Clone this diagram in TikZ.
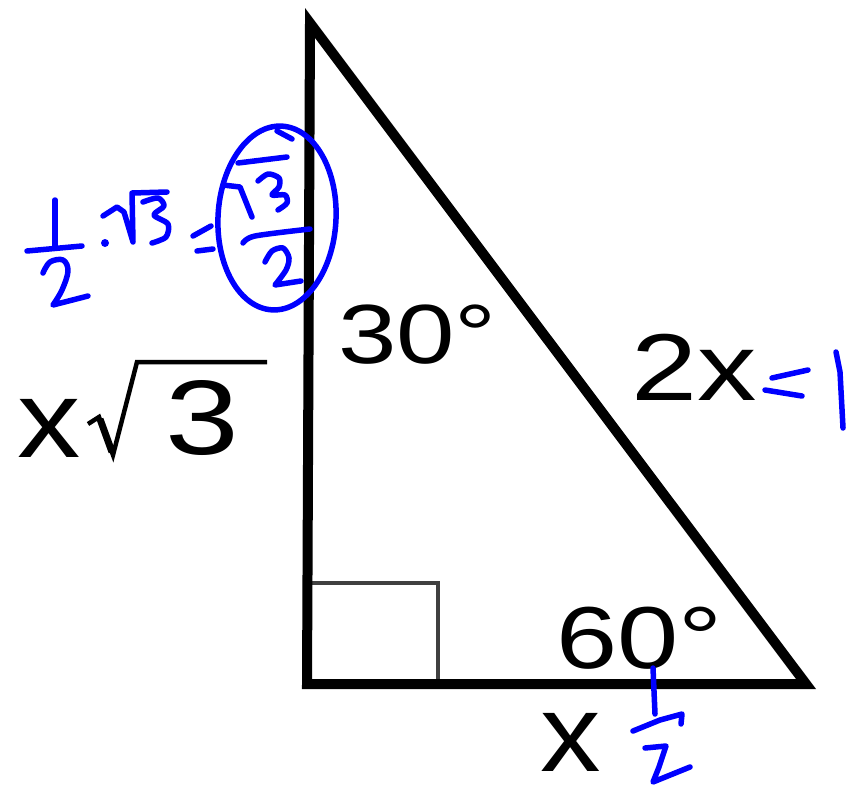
\documentclass[tikz,border=0pt]{standalone}
\usepackage{fontspec}
\setmainfont{Liberation Sans}
\usepackage{graphicx}
\begin{document}
\begin{tikzpicture}[x=1pt,y=-1pt,
  lab/.style={inner sep=0pt, outer sep=0pt, anchor=base west, text=black},
  hand/.style={draw=blue, line width=5.5pt, line cap=round, line join=round},
  edge/.style={draw=black, line width=10pt, line join=miter},
  rightmark/.style={draw=black!75, line width=4pt}]
\useasboundingbox (0,0) rectangle (858,787);
\fill[white] (0,0) rectangle (858,787);

% triangle
\coordinate (A) at (310,23);
\coordinate (B) at (307,684);
\coordinate (C) at (806,684);
\coordinate (Q1) at (307,583);
\coordinate (Q2) at (438,684);
\draw[rightmark] (Q1) rectangle (Q2);
\draw[edge] (A) -- (B) -- (C) -- cycle;

% black labels
\node[lab, font=\fontsize{84}{84}\selectfont] (t30) at (338,363) {\scalebox{1.25}[1]{30°}};
\node[lab, font=\fontsize{88}{88}\selectfont] (t60) at (556,668) {\scalebox{1.25}[1]{60°}};
\node[lab, font=\fontsize{95}{95}\selectfont] (t2x) at (631,400) {\scalebox{1.25}[1]{2x}};
\node[lab, font=\fontsize{110}{110}\selectfont] (tx) at (540,771) {\scalebox{1.1}[1]{x}};
\node[lab, font=\fontsize{110}{110}\selectfont] (tlx) at (17,457) {\scalebox{1.15}[1]{x}};
\node[lab, font=\fontsize{106}{106}\selectfont] (tl3) at (165,454) {\scalebox{1.25}[1]{3}};
\draw[black, line width=4.5pt, line join=miter] (88,424) -- (99,417) -- (113,455) -- (137,362) -- (267,362);
\draw[black, line width=7pt] (100,419) -- (112,452);

% blue: 1/2 . sqrt3 = sqrt3/2 (circled)
\draw[hand] (55,200) -- (55,246);
\draw[hand] (27,251) -- (82,246);
\draw[hand] plot[smooth, tension=0.6] coordinates {(43,273) (50,262) (63,260) (68,271) (62,290) (53,305)} -- (88,296);
\fill[blue] (105,243) circle (4);
\draw[hand] (103,216) -- (117,207) -- (124,212) -- (133,242) -- (132,193) -- (167,192);
\draw[hand] plot[smooth, tension=0.5] coordinates {(143,202) (158,198) (164,206) (154,215) (168,224) (166,237) (152,243)};
\draw[hand] (193,236) -- (211,226);
\draw[hand] (197,251) -- (213,249);
\draw[hand] (277,218) ellipse [x radius=59, y radius=92, rotate=-3];
\draw[hand] (277,131) -- (292,139);
\draw[hand] (238,163) -- (287,157);
\draw[hand] (223,185) -- (240,187) -- (252,217);
\draw[hand] plot[smooth, tension=0.5] coordinates {(258,181) (268,174) (279,178) (279,187) (272,195) (285,195) (287,203) (278,210)};
\draw[hand] plot[smooth, tension=0.5] coordinates {(243,243) (255,236) (310,229)};
\draw[hand] plot[smooth, tension=0.5] coordinates {(265,262) (272,251) (283,248) (289,258) (286,270) (275,285)} -- (301,281);

% blue: = 1
\draw[hand] (772,378) -- (808,370);
\draw[hand] (765,390) -- (802,396);
\draw[hand] (836,352) -- (840,372) -- (843,428);

% blue: 1/2 under base
\draw[hand] (653,668) -- (655,714);
\draw[hand] (633,731) -- (660,720) -- (682,714) -- (681,724);
\draw[hand] (645,748) -- (666,746) -- (659,767) -- (653,782) -- (690,767);
\end{tikzpicture}
\end{document}
